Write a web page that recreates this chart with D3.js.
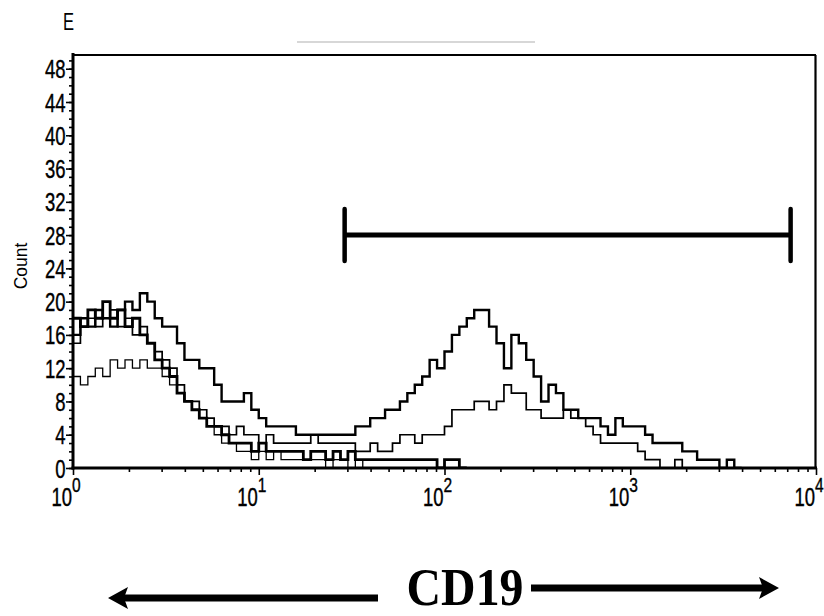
<!DOCTYPE html>
<html><head><meta charset="utf-8">
<script src="https://cdn.jsdelivr.net/npm/d3@7"></script>
<style>body{margin:0;background:#fff}</style>
</head><body><svg id="c" width="824" height="616"></svg>
<script>
// ---------- data ----------
const panelLabel = "E";
const yTitle = "Count";
const xTitle = "CD19";
const yTickValues = [0, 4, 8, 12, 16, 20, 24, 28, 32, 36, 40, 44, 48];
const xTickValues = [1, 10, 100, 1000, 10000];
const xTickExponents = ["0", "1", "2", "3", "4"];
const binWidthLog = 0.04; // channel width in decades
// thick curve: negative peak then large positive peak
const seriesA = [16,18,17,19,18,17,19,20,19,21,20,18,17,17,15,13,13,12,12,10,
                 8,8,8,9,7,6,5,5,5,5,4,4,4,4,4,4,4,4,5,5,
                 6,6,7,7,8,9,10,11,13,12,14,16,17,18,19,19,17,15,12,16,
                 15,13,11,8,10,9,7,7,6,6,6,5,4,6,5,5,5,4,3,3,
                 3,3,2,2,1,1,1,0,1,0];
// thick curve, early drop
const seriesB = [18,17,19,18,20,18,19,17,18,16,15,13,12,11,9,8,7,6,5,5,
                 4,3,3,3,2,3,2,2,2,2,2,1,2,2,1,2,1,2,1,1,
                 1,1,1,1,1,1,1,1,1,0,1,1,0];
// thin curve starting low
const seriesC = [11,10,11,12,11,13,12,13,12,13,12,12,11,10,9,8,7,6,5,4,
                 3,3,2,2,1,2,1,2,1,1,1,1,1,1,0,1,1,0,1,0];
// medium curve with smaller positive peak
const seriesD = [15,17,18,17,18,19,17,18,16,17,15,14,13,12,10,8,8,7,6,5,
                 5,4,5,4,4,3,4,3,3,3,3,3,4,3,3,3,3,3,2,2,
                 3,2,2,3,4,4,3,4,4,4,5,7,7,7,8,8,7,8,10,9,
                 9,7,7,6,6,6,7,6,6,5,4,3,3,3,3,3,2,1,1,0,
                 0,1,0];
const gateRange = [29, 7300];
const gateCount = 28;

// ---------- layout ----------
const svg = d3.select("#c");
const L = 73, R = 816, T = 55, B = 468;
const x = d3.scaleLog().domain([1, 10000]).range([L, R]);
const y = d3.scaleLinear().domain([0, 49.65]).range([B, T]);
const font = "'Liberation Sans', Arial, sans-serif";
const SX = 0.74; // condensed look of the tick font

// faint top line
svg.append("line").attr("x1", 297).attr("x2", 535).attr("y1", 42).attr("y2", 42)
  .attr("stroke", "#b0b0b0").attr("stroke-width", 1.2);

// panel label
svg.append("text").attr("font-family", font).attr("font-size", 23)
  .attr("transform", "translate(63,30) scale(0.72,1)").text(panelLabel);

// clip
svg.append("clipPath").attr("id", "clip").append("rect")
  .attr("x", L).attr("y", T).attr("width", R - L).attr("height", B - T);

// histograms
const line = d3.line().x(d => x(d[0])).y(d => y(d[1])).curve(d3.curveStepAfter);
function pts(vals) {
  const p = vals.map((v, i) => [Math.pow(10, i * binWidthLog), v]);
  p.push([Math.pow(10, vals.length * binWidthLog), 0]);
  return p;
}
const g = svg.append("g").attr("clip-path", "url(#clip)");
[[seriesC, 1.3], [seriesD, 1.7], [seriesB, 2.8], [seriesA, 2.4]].forEach(([s, w]) => {
  g.append("path").attr("d", line(pts(s))).attr("fill", "none")
    .attr("stroke", "#000").attr("stroke-width", w).attr("stroke-linejoin", "miter");
});

// frame
svg.append("line").attr("x1", L).attr("x2", R).attr("y1", T).attr("y2", T)
  .attr("stroke", "#000").attr("stroke-width", 2.2);
svg.append("line").attr("x1", R - 0.5).attr("x2", R - 0.5).attr("y1", T).attr("y2", B)
  .attr("stroke", "#000").attr("stroke-width", 2.2);

// y axis
const yMinor = svg.append("g").attr("transform", `translate(${L},0)`)
  .call(d3.axisLeft(y).tickValues(d3.range(0, 50, 1)).tickSize(4).tickFormat(""));
yMinor.select(".domain").remove();
const yAx = svg.append("g").attr("transform", `translate(${L},0)`)
  .call(d3.axisLeft(y).tickValues(yTickValues).tickSize(7));
yAx.select(".domain").remove();
yAx.selectAll("text").attr("font-family", font).attr("font-size", 25).attr("fill", "#000")
  .attr("stroke", "#000").attr("stroke-width", 0.4)
  .attr("x", -7.5 / SX).attr("transform", `scale(${SX},1)`).attr("dy", "0.36em");

// x axis
const xMinor = svg.append("g").attr("transform", `translate(0,${B})`)
  .call(d3.axisBottom(x).tickValues(x.ticks().filter(v => !xTickValues.includes(v))).tickSize(4).tickFormat(""));
xMinor.select(".domain").remove();
const xAx = svg.append("g").attr("transform", `translate(0,${B})`)
  .call(d3.axisBottom(x).tickValues(xTickValues).tickSize(7).tickFormat(""));
xAx.select(".domain").remove();
svg.selectAll(".tick line").attr("stroke", "#000").attr("stroke-width", 1.6);
xAx.selectAll(".tick").each(function (d, i) {
  const t = d3.select(this).append("text").attr("fill", "#000").attr("font-family", font)
    .attr("stroke", "#000").attr("stroke-width", 0.4)
    .attr("font-size", 25).attr("text-anchor", "start")
    .attr("transform", `translate(-22,38) scale(${SX},1)`);
  t.append("tspan").text("10");
  t.append("tspan").attr("font-size", 21).attr("dx", 0).attr("dy", -14).text(xTickExponents[i]);
});

// axis lines
svg.append("line").attr("x1", L).attr("x2", L).attr("y1", T - 2).attr("y2", B + 1.5)
  .attr("stroke", "#000").attr("stroke-width", 3);
svg.append("line").attr("x1", L - 1.5).attr("x2", R + 1).attr("y1", B).attr("y2", B)
  .attr("stroke", "#000").attr("stroke-width", 3.2);

// y title
svg.append("text").attr("font-family", font).attr("font-size", 19).attr("text-anchor", "middle")
  .attr("transform", "translate(27,266) rotate(-90) scale(0.92,1)").text(yTitle);

// gate
const gx1 = x(gateRange[0]), gx2 = x(gateRange[1]), gy = y(gateCount);
svg.append("line").attr("x1", gx1).attr("x2", gx2).attr("y1", gy).attr("y2", gy)
  .attr("stroke", "#000").attr("stroke-width", 5);
[gx1, gx2].forEach(gxx => svg.append("line").attr("x1", gxx).attr("x2", gxx)
  .attr("y1", gy - 26).attr("y2", gy + 26).attr("stroke", "#000").attr("stroke-width", 4.5)
  .attr("stroke-linecap", "round"));

// bottom arrows + title
svg.append("line").attr("x1", 378).attr("x2", 122).attr("y1", 598).attr("y2", 598)
  .attr("stroke", "#000").attr("stroke-width", 7);
svg.append("path").attr("d", "M108,598 L128,587 L124,598 L128,609 Z").attr("fill", "#000");
svg.append("line").attr("x1", 531).attr("x2", 764).attr("y1", 588).attr("y2", 588)
  .attr("stroke", "#000").attr("stroke-width", 7);
svg.append("path").attr("d", "M779,588 L759,577 L763,588 L759,599 Z").attr("fill", "#000");
svg.append("text").attr("font-family", "'Liberation Serif', 'Times New Roman', serif")
  .attr("font-weight", "bold").attr("font-size", 52).attr("text-anchor", "middle")
  .attr("transform", "translate(465,605) scale(0.92,1)").text(xTitle);
</script></body></html>
